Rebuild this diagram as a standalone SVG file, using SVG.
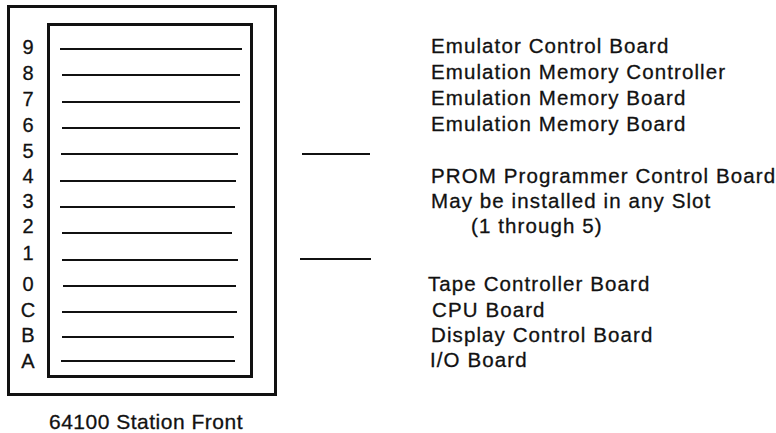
<svg xmlns="http://www.w3.org/2000/svg" width="776" height="433" viewBox="0 0 776 433">
<style>
.frame{fill:none;stroke:#111;stroke-width:3}
.slot{stroke:#111;stroke-width:2}
.dash{stroke:#111;stroke-width:2}
.num{font-family:"Liberation Sans",Arial,sans-serif;font-size:20px;fill:#111;stroke:#111;stroke-width:0.3;text-anchor:middle}
.lbl{font-family:"Liberation Sans",Arial,sans-serif;font-size:20.5px;fill:#111;stroke:#111;stroke-width:0.3;letter-spacing:1.1px}
.cap{font-family:"Liberation Sans",Arial,sans-serif;font-size:21px;fill:#111;stroke:#111;stroke-width:0.3;text-anchor:middle;letter-spacing:0.5px}
</style>
<rect width="776" height="433" fill="#fff"/>
<g id="station">
<rect class="frame" x="8.5" y="6.5" width="267" height="388"/>
<rect class="frame" x="48.5" y="24.5" width="203" height="352"/>
</g>
<g id="slots">
<line class="slot" x1="60" y1="49" x2="242" y2="49"/>
<line class="slot" x1="62" y1="75" x2="240" y2="75"/>
<line class="slot" x1="62" y1="102" x2="240" y2="102"/>
<line class="slot" x1="62" y1="128" x2="240" y2="128"/>
<line class="slot" x1="61" y1="154" x2="238" y2="154"/>
<line class="slot" x1="60" y1="181" x2="236" y2="181"/>
<line class="slot" x1="60" y1="207" x2="235" y2="207"/>
<line class="slot" x1="62" y1="233" x2="232" y2="233"/>
<line class="slot" x1="62" y1="260" x2="238" y2="260"/>
<line class="slot" x1="63" y1="286" x2="236" y2="286"/>
<line class="slot" x1="62" y1="312" x2="237" y2="312"/>
<line class="slot" x1="62" y1="337" x2="234" y2="337"/>
<line class="slot" x1="61" y1="361" x2="235" y2="361"/>
</g>
<g id="slot-numbers">
<text class="num" x="28" y="54">9</text>
<text class="num" x="28" y="80">8</text>
<text class="num" x="28" y="106">7</text>
<text class="num" x="28" y="132">6</text>
<text class="num" x="28" y="158">5</text>
<text class="num" x="28" y="183">4</text>
<text class="num" x="28" y="208">3</text>
<text class="num" x="28" y="233">2</text>
<text class="num" x="28" y="260">1</text>
<text class="num" x="28" y="291">0</text>
<text class="num" x="28" y="317">C</text>
<text class="num" x="28" y="342">B</text>
<text class="num" x="28" y="368">A</text>
</g>
<g id="connectors">
<line class="dash" x1="302" y1="154" x2="370" y2="154"/>
<line class="dash" x1="300" y1="259" x2="371" y2="259"/>
</g>
<g id="labels">
<text class="lbl" x="431" y="53">Emulator Control Board</text>
<text class="lbl" x="431" y="79">Emulation Memory Controller</text>
<text class="lbl" x="431" y="105">Emulation Memory Board</text>
<text class="lbl" x="431" y="131">Emulation Memory Board</text>
<text class="lbl" x="431" y="183">PROM Programmer Control Board</text>
<text class="lbl" x="431" y="208">May be installed in any Slot</text>
<text class="lbl" x="471" y="233">(1 through 5)</text>
<text class="lbl" x="428" y="291">Tape Controller Board</text>
<text class="lbl" x="432" y="317">CPU Board</text>
<text class="lbl" x="431" y="342">Display Control Board</text>
<text class="lbl" x="430" y="367">I/O Board</text>
</g>
<g id="caption">
<text class="cap" x="146" y="429">64100 Station Front</text>
</g>
</svg>
